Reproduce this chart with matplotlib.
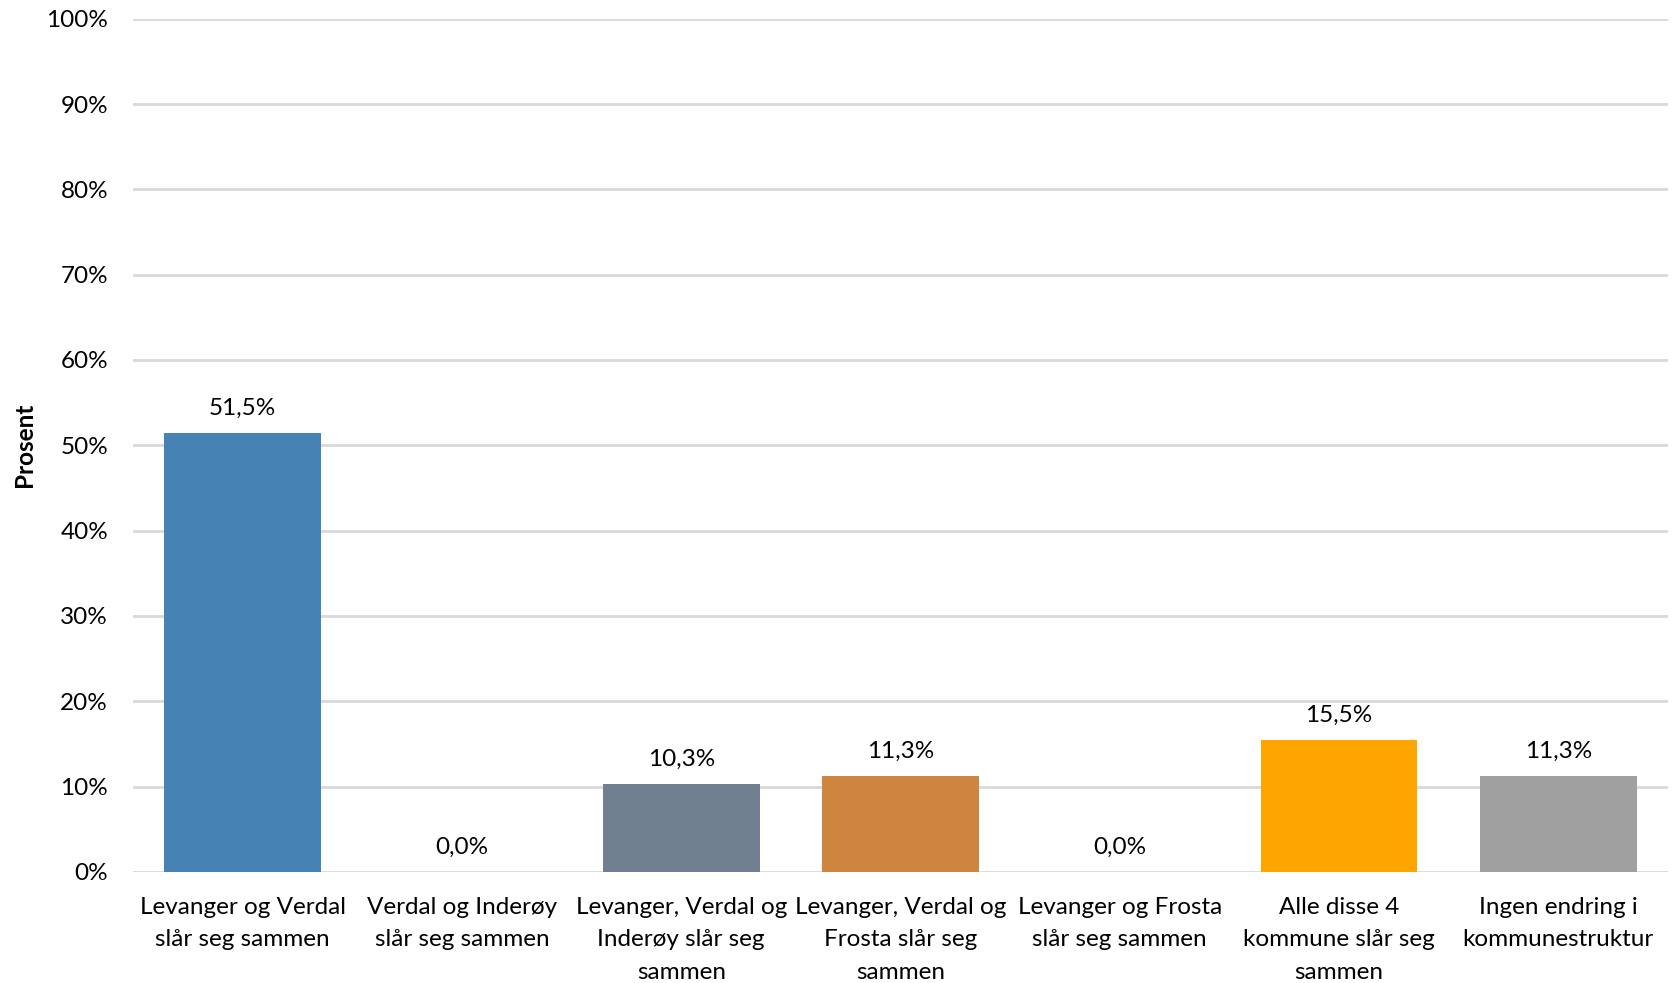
import matplotlib
matplotlib.use("Agg")
import matplotlib.pyplot as plt

categories = [
    "Levanger og Verdal\nslår seg sammen",
    "Verdal og Inderøy\nslår seg sammen",
    "Levanger, Verdal og\nInderøy slår seg\nsammen",
    "Levanger, Verdal og\nFrosta slår seg\nsammen",
    "Levanger og Frosta\nslår seg sammen",
    "Alle disse 4\nkommune slår seg\nsammen",
    "Ingen endring i\nkommunestruktur",
]
values = [51.5, 0.0, 10.3, 11.3, 0.0, 15.5, 11.3]
colors = ["#4682B4", "#4682B4", "#708090", "#CD853F", "#CD853F", "#FFA500", "#A0A0A0"]
yticks = [0, 10, 20, 30, 40, 50, 60, 70, 80, 90, 100]

plt.rcParams['font.family'] = ['Lato', 'DejaVu Sans']
FS = 17.5

fig = plt.figure(figsize=(16.73, 9.83), dpi=100)
ax = fig.add_axes([0.0795, 0.113, 0.9175, 0.868])

x = list(range(len(categories)))
ax.bar(x, values, width=0.715, color=colors, zorder=3)
for xi, v in zip(x, values):
    ax.annotate(f"{v:.1f}%".replace(".", ","), (xi, v), xytext=(0, 10),
                textcoords="offset points", ha="center", va="bottom",
                fontsize=FS, color="#000000")

ax.set_xlim(-0.5, len(categories) - 0.5)
ax.set_ylim(0, 100)
ax.set_yticks(yticks)
ax.set_yticklabels([f"{t}%" for t in yticks], fontsize=FS)
ax.set_xticks(x)
ax.set_xticklabels(categories, fontsize=FS, linespacing=1.68)
ax.tick_params(axis='both', length=0)
ax.tick_params(axis='y', pad=18)
ax.tick_params(axis='x', pad=18)
ax.grid(axis='y', color='#d9d9d9', linewidth=2, zorder=0)
for s in ax.spines.values():
    s.set_visible(False)
ax.set_ylabel("Prosent", fontsize=FS, fontweight='bold')
ax.yaxis.set_label_coords(-0.063, 0.5)

fig.savefig("out.png", dpi=100)
